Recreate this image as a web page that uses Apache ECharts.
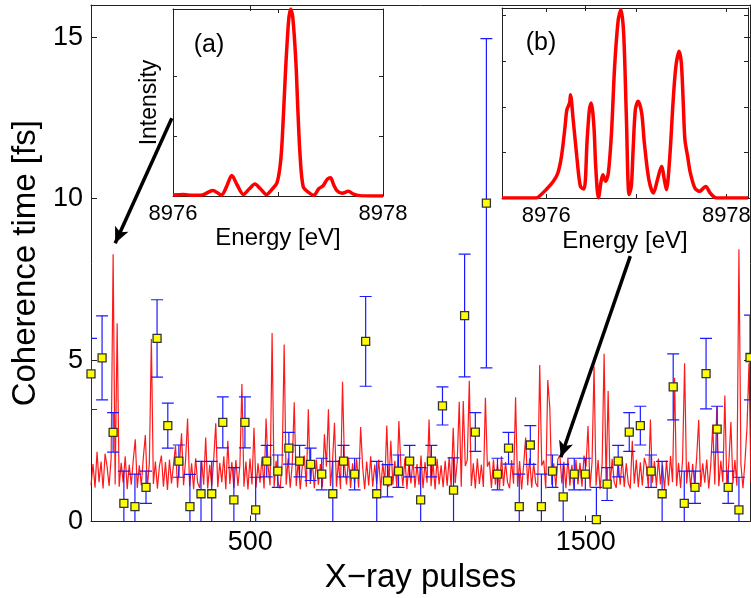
<!DOCTYPE html>
<html><head><meta charset="utf-8">
<script src="https://cdn.jsdelivr.net/npm/echarts@6/dist/echarts.min.js"></script>
<style>html,body{margin:0;padding:0;background:#fff}#c{width:751px;height:598px}</style>
</head><body><div id="c"></div>
<script>
// ---- main panel: per-bin coherence time with error bars ----
const pulseX = [25,58,91,123,156,189,222,254,287,320,353,385,418,451,484,516,549,582,615,647,680,713,746,778,811,844,877,909,942,975,1008,1040,1073,1106,1139,1171,1204,1237,1270,1302,1335,1368,1401,1433,1466,1499,1532,1564,1597,1630,1663,1695,1728,1761,1794,1826,1859,1892,1925,1957,1990];
const coherence = [4.57,5.07,2.76,0.56,0.46,1.06,5.67,2.97,1.87,0.46,0.86,0.86,3.07,0.67,3.07,0.36,1.87,1.56,2.27,1.87,1.77,1.47,0.86,1.87,1.47,5.58,0.86,1.26,1.56,1.87,0.67,1.87,3.58,0.97,6.38,2.77,9.86,1.47,2.27,0.46,2.37,0.46,1.56,0.76,1.47,1.47,0.06,1.16,1.87,2.77,2.97,1.56,0.86,4.17,0.56,1.06,4.58,2.86,1.06,0.36,5.08];
const coherenceErr = [1.10,1.30,0.61,1.00,1.01,0.50,1.20,0.70,0.50,1.00,1.00,1.00,0.79,1.00,0.79,1.01,0.49,0.50,0.49,0.49,0.50,0.49,1.00,0.49,0.49,1.39,1.00,0.50,0.50,0.49,1.00,0.49,0.59,1.00,1.90,0.60,5.10,0.49,0.49,1.01,0.60,1.01,0.50,1.01,0.49,0.49,1.00,0.51,0.49,0.60,0.60,0.50,1.00,1.02,1.00,0.50,1.09,0.71,0.50,1.01,1.31];

// ---- main panel: single-shot trace (pulse index grid: start + step*i) ----
const traceStart = 25;
const traceStep = 6;
const traceValues = [
1.12,1.78,1.05,2.16,1.22,1.86,1.02,2.10,1.70,1.10,
1.95,8.28,1.15,6.14,1.08,1.82,1.20,2.02,1.00,1.76,
1.14,1.90,2.55,1.04,1.74,1.12,1.98,2.68,1.06,1.80,
5.65,1.16,1.86,1.02,1.72,2.04,1.08,1.84,0.98,1.92,
1.18,1.76,2.35,1.05,1.85,2.73,1.12,1.90,3.19,1.09,
1.80,1.00,1.96,1.20,1.04,1.88,1.14,2.60,1.02,1.76,
1.10,1.94,3.04,1.06,1.82,1.22,2.02,1.00,2.50,1.16,
1.84,1.04,1.90,1.10,1.74,4.26,1.08,1.86,0.99,1.95,
1.15,2.90,1.05,1.80,1.20,2.00,1.02,3.19,1.72,1.12,
5.84,1.08,1.88,1.18,1.02,1.84,5.48,1.14,1.96,1.05,
1.78,3.69,1.10,1.90,1.00,1.72,2.04,1.08,3.48,1.16,
1.86,1.03,1.92,1.14,1.78,1.06,2.70,1.70,3.48,1.10,
1.82,3.06,1.08,1.90,1.01,4.33,1.74,1.15,1.98,1.04,
1.80,1.18,1.94,1.05,2.93,1.70,1.00,1.86,1.12,2.02,
1.08,1.76,1.16,1.92,0.99,1.82,1.20,2.97,1.07,2.50,
1.14,1.88,1.04,3.11,1.72,1.10,1.96,1.01,1.80,1.18,
1.92,1.05,1.78,1.13,2.04,1.03,1.84,1.20,3.16,1.09,
1.82,0.99,1.94,1.15,1.74,1.06,1.88,1.11,2.00,1.04,
2.90,1.19,1.86,3.71,1.08,3.73,1.72,1.90,4.36,1.10,
1.80,1.02,1.95,1.16,1.76,1.07,3.83,1.70,1.86,1.04,
1.92,1.14,1.78,1.00,2.02,1.10,1.84,1.22,1.03,1.90,
1.17,3.85,1.08,1.87,0.99,1.75,2.60,1.12,1.96,1.05,
1.82,1.19,1.07,4.85,1.73,1.89,1.02,4.38,3.53,1.13,
1.80,1.06,1.93,2.05,1.18,1.85,1.03,1.98,1.11,1.76,
1.01,1.91,1.15,1.82,1.08,2.04,1.70,2.96,1.05,1.84,
4.80,1.11,1.90,1.00,1.77,5.20,1.16,4.04,1.09,1.94,
1.22,1.04,1.86,1.14,2.00,1.07,1.80,1.19,1.02,2.50,
1.17,1.91,1.06,1.83,1.12,1.97,1.72,1.03,3.16,1.20,
1.87,1.08,1.95,1.15,1.76,1.00,1.89,1.11,2.03,1.22,
4.45,1.09,1.82,1.04,1.93,4.90,1.18,1.85,1.05,1.78,
1.13,1.98,3.15,1.07,1.80,1.20,1.92,1.02,1.75,3.00,
1.15,3.57,1.09,1.88,1.22,3.90,1.06,1.83,3.08,1.17,
1.90,1.11,8.43,1.76,1.03,1.86,2.90,4.90,1.20];

const mainXTicks = [500, 1500];
const mainYTicks = [0, 5, 10, 15];

// ---- inset (a) spectrum ----
const specAEnergy = [8976.00,8976.10,8976.18,8976.28,8976.38,8976.46,8976.51,8976.56,8976.61,8976.67,8976.73,8976.78,8976.83,8976.89,8976.95,8976.99,8977.02,8977.04,8977.07,8977.10,8977.12,8977.14,8977.17,8977.19,8977.21,8977.24,8977.29,8977.34,8977.39,8977.43,8977.47,8977.50,8977.53,8977.56,8977.61,8977.67,8977.72,8977.78,8977.90,8978.00];
const specAIntensity = [0.005,0.008,0.004,0.006,0.03,0.005,0.05,0.11,0.06,0.008,0.04,0.064,0.04,0.008,0.04,0.07,0.16,0.30,0.65,0.93,1.0,0.96,0.72,0.45,0.22,0.05,0.02,0.004,0.04,0.055,0.09,0.098,0.06,0.03,0.015,0.025,0.01,0.002,0.0,0.0];

// ---- inset (b) spectrum ----
const specBEnergy = [8975.51,8975.89,8975.93,8976.00,8976.08,8976.13,8976.17,8976.21,8976.23,8976.26,8976.27,8976.30,8976.34,8976.38,8976.42,8976.455,8976.48,8976.50,8976.53,8976.55,8976.58,8976.61,8976.63,8976.66,8976.69,8976.725,8976.76,8976.80,8976.83,8976.86,8976.89,8976.92,8976.945,8976.965,8976.99,8977.02,8977.06,8977.09,8977.14,8977.19,8977.235,8977.28,8977.315,8977.335,8977.37,8977.41,8977.44,8977.475,8977.50,8977.52,8977.54,8977.57,8977.60,8977.65,8977.70,8977.77,8977.82,8977.89,8978.24];
const specBIntensity = [0,0,0.012,0.044,0.088,0.132,0.219,0.377,0.465,0.50,0.544,0.412,0.219,0.061,0.047,0.307,0.465,0.50,0.377,0.166,0.0,0.088,0.123,0.088,0.132,0.342,0.693,0.938,0.991,0.868,0.43,0.018,0.061,0.254,0.465,0.509,0.447,0.289,0.096,0.026,0.096,0.166,0.088,0.044,0.202,0.517,0.693,0.772,0.711,0.517,0.307,0.219,0.132,0.053,0.035,0.061,0.026,0.0,0.0];

const insetXTicks = [8976, 8977, 8978];
const insetXLabels = [8976, 8978];
const insetAYTicks = [0.32, 0.64];
const insetBYTicks = [0.24, 0.48, 0.72, 0.96];

const FONT = '"Liberation Sans", Arial, Helvetica, sans-serif';
const AX = '#222';
const plain = function (v) { return String(v); };

function frameAxis(base, extra) {
  return Object.assign({
    type: 'value',
    axisLine: { show: true, onZero: false, lineStyle: { color: AX, width: 1 } },
    splitLine: { show: false },
    axisLabel: { show: false },
  }, base, extra);
}

const chart = echarts.init(document.getElementById('c'), null, { renderer: 'canvas' });

const option = {
  animation: false,
  textStyle: { fontFamily: FONT },
  grid: [
    { left: 91, top: 5, width: 659, height: 516.5, outerBoundsMode: 'none' },
    { left: 173, top: 9, width: 210, height: 187, show: true, backgroundColor: '#fff', borderWidth: 0, outerBoundsMode: 'none' },
    { left: 502, top: 8, width: 246, height: 190, show: true, backgroundColor: '#fff', borderWidth: 0, outerBoundsMode: 'none' }
  ],
  xAxis: [
    frameAxis({ gridIndex: 0, min: 25, max: 1990, position: 'bottom' }, {
      axisTick: { show: true, inside: true, length: 6, customValues: mainXTicks, lineStyle: { color: AX } },
      axisLabel: { show: true, customValues: mainXTicks, formatter: plain, fontSize: 27, color: '#000', margin: 8, fontFamily: FONT },
      name: 'X\u2212ray pulses', nameLocation: 'middle', nameGap: 31,
      nameTextStyle: { fontSize: 33, color: '#000', fontFamily: FONT }
    }),
    frameAxis({ gridIndex: 0, min: 25, max: 1990, position: 'top' }, {
      axisTick: { show: true, inside: true, length: 6, customValues: mainXTicks, lineStyle: { color: AX } }
    }),
    frameAxis({ gridIndex: 1, min: 8976, max: 8978, position: 'bottom' }, {
      axisTick: { show: true, inside: true, length: 4, customValues: insetXTicks, lineStyle: { color: AX } },
      axisLabel: { show: true, customValues: insetXLabels, formatter: plain, fontSize: 22, color: '#000', margin: 7, fontFamily: FONT },
      name: 'Energy [eV]', nameLocation: 'middle', nameGap: 29,
      nameTextStyle: { fontSize: 24, color: '#000', fontFamily: FONT }
    }),
    frameAxis({ gridIndex: 1, min: 8976, max: 8978, position: 'top' }, {
      axisTick: { show: true, inside: true, length: 4, customValues: insetXTicks, lineStyle: { color: AX } }
    }),
    frameAxis({ gridIndex: 2, min: 8975.51, max: 8978.24, position: 'bottom' }, {
      axisTick: { show: true, inside: true, length: 4, customValues: insetXTicks, lineStyle: { color: AX } },
      axisLabel: { show: true, customValues: insetXLabels, formatter: plain, fontSize: 22, color: '#000', margin: 7, fontFamily: FONT },
      name: 'Energy [eV]', nameLocation: 'middle', nameGap: 31,
      nameTextStyle: { fontSize: 24, color: '#000', fontFamily: FONT }
    }),
    frameAxis({ gridIndex: 2, min: 8975.51, max: 8978.24, position: 'top' }, {
      axisTick: { show: true, inside: true, length: 4, customValues: insetXTicks, lineStyle: { color: AX } }
    })
  ],
  yAxis: [
    frameAxis({ gridIndex: 0, min: 0, max: 16, position: 'left' }, {
      axisTick: { show: true, inside: true, length: 6, customValues: mainYTicks, lineStyle: { color: AX } },
      axisLabel: { show: true, customValues: mainYTicks, formatter: plain, fontSize: 27, color: '#000', margin: 8, fontFamily: FONT },
      name: 'Coherence time [fs]', nameLocation: 'middle', nameGap: 44, nameRotate: 90,
      nameTextStyle: { fontSize: 33, color: '#000', fontFamily: FONT }
    }),
    frameAxis({ gridIndex: 0, min: 0, max: 16, position: 'right' }, {
      axisTick: { show: true, inside: true, length: 6, customValues: mainYTicks, lineStyle: { color: AX } }
    }),
    frameAxis({ gridIndex: 1, min: 0, max: 1, position: 'left' }, {
      axisTick: { show: true, inside: true, length: 4, customValues: insetAYTicks, lineStyle: { color: AX } },
      name: 'Intensity', nameLocation: 'middle', nameGap: 12, nameRotate: 90,
      nameTextStyle: { fontSize: 23, color: '#000', fontFamily: FONT }
    }),
    frameAxis({ gridIndex: 1, min: 0, max: 1, position: 'right' }, {
      axisTick: { show: true, inside: true, length: 4, customValues: insetAYTicks, lineStyle: { color: AX } }
    }),
    frameAxis({ gridIndex: 2, min: 0, max: 1, position: 'left' }, {
      axisTick: { show: true, inside: true, length: 4, customValues: insetBYTicks, lineStyle: { color: AX } }
    }),
    frameAxis({ gridIndex: 2, min: 0, max: 1, position: 'right' }, {
      axisTick: { show: true, inside: true, length: 4, customValues: insetBYTicks, lineStyle: { color: AX } }
    })
  ],
  series: [
    {
      name: 'trace', type: 'line', xAxisIndex: 0, yAxisIndex: 0,
      data: traceValues.map((v, i) => [traceStart + traceStep * i, v]),
      showSymbol: false, symbol: 'none', sampling: null, clip: true,
      lineStyle: { color: '#ff0000', width: 1.2, opacity: 0.9 },
      silent: true, z: 2
    },
    {
      name: 'error', type: 'custom', xAxisIndex: 0, yAxisIndex: 0, clip: true, silent: true, z: 3,
      data: pulseX.map((x, i) => [x, coherence[i] - coherenceErr[i], coherence[i] + coherenceErr[i]]),
      encode: { x: 0, y: [1, 2] },
      renderItem: function (params, api) {
        const x = api.value(0);
        const lo = api.coord([x, api.value(1)]);
        const hi = api.coord([x, api.value(2)]);
        const w = 6;
        const style = { stroke: '#1a1aff', lineWidth: 1.2 };
        return {
          type: 'group', children: [
            { type: 'line', shape: { x1: lo[0], y1: lo[1], x2: hi[0], y2: hi[1] }, style: style },
            { type: 'line', shape: { x1: hi[0] - w, y1: hi[1], x2: hi[0] + w, y2: hi[1] }, style: style },
            { type: 'line', shape: { x1: lo[0] - w, y1: lo[1], x2: lo[0] + w, y2: lo[1] }, style: style }
          ]
        };
      }
    },
    {
      name: 'coherence', type: 'scatter', xAxisIndex: 0, yAxisIndex: 0, clip: false, silent: true, z: 4,
      data: pulseX.map((x, i) => [x, coherence[i]]),
      symbol: 'rect', symbolSize: 8,
      itemStyle: { color: '#ffff00', borderColor: '#333', borderWidth: 1.3, opacity: 1 },
      markLine: {
        silent: true, symbol: ['none', 'arrow'], symbolSize: [11, 16], precision: 4,
        lineStyle: { color: '#000', width: 3.5, type: 'solid' },
        label: { show: false }, emphasis: { disabled: true },
        data: [
          [{ coord: [266, 12.49] }, { coord: [97, 8.62] }],
          [{ coord: [1633, 8.22] }, { coord: [1426, 1.99] }]
        ]
      }
    },
    {
      name: 'spectrumA', type: 'line', xAxisIndex: 2, yAxisIndex: 2,
      data: specAEnergy.map((e, i) => [e, specAIntensity[i]]),
      showSymbol: false, symbol: 'none', smooth: 0.3, clip: true, silent: true, z: 5,
      lineStyle: { color: '#ff0000', width: 3.5 }
    },
    {
      name: 'spectrumB', type: 'line', xAxisIndex: 4, yAxisIndex: 4,
      data: specBEnergy.map((e, i) => [e, specBIntensity[i]]),
      showSymbol: false, symbol: 'none', smooth: 0.3, clip: true, silent: true, z: 5,
      lineStyle: { color: '#ff0000', width: 3.5 }
    }
  ],
  graphic: [
    { type: 'text', x: 209, y: 45, z: 100, style: { text: '(a)', font: '25px ' + FONT, fill: '#000', textAlign: 'center', textVerticalAlign: 'middle' } },
    { type: 'text', x: 541, y: 43, z: 100, style: { text: '(b)', font: '25px ' + FONT, fill: '#000', textAlign: 'center', textVerticalAlign: 'middle' } }
  ]
};
chart.setOption(option);
</script>
</body></html>
